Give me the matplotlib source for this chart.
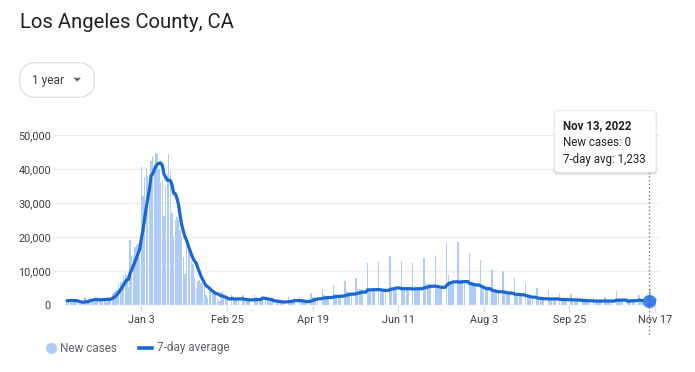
import matplotlib
matplotlib.use("Agg")
import matplotlib.pyplot as plt
import matplotlib.transforms as mtransforms
import matplotlib.dates as mdates
from matplotlib.patches import FancyBboxPatch, Polygon
from matplotlib.lines import Line2D
import numpy as np
import pandas as pd

plt.rcParams['font.family'] = ['Roboto', 'DejaVu Sans']

# ---------------- data ----------------
title = "Los Angeles County, CA"
range_label = "1 year"
series_names = ["New cases", "7-day average"]
start_date = "2021-11-18"

# six days before the first shown day (only used for the 7-day average)
cases_prior_nov_2021 = [1500, 800, 600, 2100, 1300, 1400]
cases_nov_2021 = [1400, 1500, 900, 700, 1900, 1300, 1500, 0, 300, 400, 300, 2400, 1800]
cases_dec_2021 = [1600, 1700, 1500, 1100, 900, 2300, 1600, 1700, 1800, 1700,
                  1200, 1000, 2400, 1900, 2000, 3200, 3700, 4000, 4500, 6600,
                  6800, 6900, 8800, 9300, 8900, 5400, 19000, 14500, 14600, 17200, 17700]
cases_jan_2022 = [18000, 14000, 40500, 32000, 37700, 40300, 38000, 35500, 42300, 43700,
                  41100, 44700, 44500, 40100, 36200, 36700, 26200, 34800, 38400, 44500,
                  39400, 27000, 20000, 25000, 26000, 25000, 22000, 20000, 14000, 9000, 17000]
cases_feb_2022 = [16000, 15000, 13000, 12000, 8000, 5000, 7000, 7500, 6500, 6000,
                  5500, 3000, 2000, 4500, 4000, 3800, 3500, 3300, 1800, 1200,
                  1500, 3800, 2500, 2200, 2000, 0, 0, 3000]
cases_mar_2022 = [2600, 2400, 2400, 2200, 0, 0, 2800, 2000, 1900, 1900,
                  1900, 0, 0, 3000, 2300, 2200, 2000, 1800, 2700, 0,
                  2400, 1600, 1500, 1500, 1400, 0, 0, 1900, 1100, 1100, 1100]
cases_apr_2022 = [1100, 0, 0, 2300, 1500, 1500, 1500, 2300, 0, 0,
                  2400, 1200, 1200, 1100, 1100, 0, 0, 3600, 2300, 2300,
                  2200, 2200, 0, 0, 4700, 2800, 2700, 2600, 2600, 0]
cases_may_2022 = [0, 5900, 3200, 3100, 3000, 3000, 0, 0, 7000, 4000,
                  3900, 3800, 3700, 0, 0, 8000, 4800, 4700, 4600, 4500,
                  0, 0, 12400, 5000, 4800, 4700, 4600, 0, 0, 12600, 4700]
cases_jun_2022 = [4400, 4300, 4100, 0, 0, 14400, 5300, 5200, 5100, 5000,
                  0, 0, 13000, 5300, 5200, 5100, 5000, 0, 0, 12300,
                  5500, 5400, 5300, 5100, 0, 0, 13800, 6400, 6200, 6100]
cases_jul_2022 = [6000, 0, 0, 14400, 5600, 5600, 5500, 5300, 0, 0,
                  18300, 8800, 7000, 6800, 6700, 0, 0, 18600, 7600, 7500,
                  7400, 7200, 0, 0, 15200, 6800, 6600, 6400, 6300, 0, 0]
cases_aug_2022 = [13200, 5300, 5100, 5000, 5000, 0, 0, 10300, 4400, 4300,
                  4200, 4100, 0, 0, 10000, 3700, 3700, 3600, 3500, 0,
                  0, 7800, 3400, 3300, 3300, 3200, 0, 0, 6400, 2500, 2400]
cases_sep_2022 = [2400, 2400, 0, 0, 4900, 2100, 2000, 2000, 1950, 0,
                  0, 4400, 2100, 2100, 2000, 2000, 0, 0, 3400, 2000,
                  2000, 1900, 1900, 0, 0, 3200, 1800, 1750, 1700, 1700]
cases_oct_2022 = [0, 0, 2500, 1600, 1600, 1550, 1500, 0, 0, 2000,
                  1550, 1500, 1500, 1500, 0, 0, 2300, 1450, 1450, 1450,
                  1400, 0, 0, 4200, 1550, 1500, 1450, 1450, 0, 0, 2000]
cases_nov_2022 = [1800, 1800, 1750, 1750, 0, 0, 3000, 1450, 1400, 1400,
                  1381, 0, 0, 4600, 1600, 1500, 1400]

tick_dates = ["2022-01-03", "2022-02-25", "2022-04-19", "2022-06-11",
              "2022-08-03", "2022-09-25", "2022-11-17"]
tick_labels = ["Jan 3", "Feb 25", "Apr 19", "Jun 11", "Aug 3", "Sep 25", "Nov 17"]
y_ticks = [0, 10000, 20000, 30000, 40000, 50000]
y_tick_labels = ["0", "10,000", "20,000", "30,000", "40,000", "50,000"]
tooltip_date = "2022-11-13"

# ---------------- derived ----------------
daily = (cases_nov_2021 + cases_dec_2021 + cases_jan_2022 + cases_feb_2022 +
         cases_mar_2022 + cases_apr_2022 + cases_may_2022 + cases_jun_2022 +
         cases_jul_2022 + cases_aug_2022 + cases_sep_2022 + cases_oct_2022 +
         cases_nov_2022)
dates = pd.date_range(start_date, periods=len(daily), freq="D")
avg = (pd.Series(cases_prior_nov_2021 + daily).rolling(7).mean()
       .iloc[len(cases_prior_nov_2021):].to_numpy())

# ---------------- colours ----------------
BAR = "#aecbfa"
LINE = "#1967d2"
DOT = "#3d7ff0"
GRID = "#ececec"
TXT = "#5f6368"
TICKTXT = "#3c4043"

W, H = 695, 372
fig = plt.figure(figsize=(W / 100, H / 100), dpi=100)
pix = mtransforms.Affine2D().scale(1 / 100.0, -1 / 100.0).translate(0, H / 100.0) + fig.dpi_scale_trans

# axes geometry (pixels)
ax_l, ax_r, ax_top, ax_bot = 53, 660, 135, 305
ax = fig.add_axes([ax_l / W, 1 - ax_bot / H, (ax_r - ax_l) / W, (ax_bot - ax_top) / H])

ax.bar(dates, daily, width=0.85, color=BAR, linewidth=0, zorder=2)
ax.plot(dates, avg, color=LINE, lw=2.3, zorder=3, solid_capstyle="round",
        solid_joinstyle="round")

d0 = dates[0]
ax.set_xlim(d0 - pd.Timedelta(days=8.7), d0 + pd.Timedelta(days=367.1))
ax.set_ylim(0, 50000)
for s in ax.spines.values():
    s.set_visible(False)
ax.set_yticks(y_ticks)
ax.set_yticklabels(y_tick_labels)
ax.yaxis.grid(True, color=GRID, lw=1, zorder=0)
ax.set_axisbelow(True)
ax.tick_params(axis="y", length=0, pad=1.5, labelsize=7.8, labelcolor=TICKTXT)
ax.set_xticks(pd.to_datetime(tick_dates))
ax.set_xticklabels(tick_labels)
ax.tick_params(axis="x", length=5, width=1, color="#dadce0", pad=2.5,
               labelsize=7.8, labelcolor=TICKTXT)

# tooltip marker + dotted line
tdate = pd.Timestamp(tooltip_date)
tidx = int((tdate - d0).days)
tnum = mdates.date2num(tdate.to_pydatetime())
ax.plot([tnum], [avg[tidx]], "o", ms=8.5, color=DOT, zorder=5, clip_on=False)
vtrans = mtransforms.blended_transform_factory(ax.transData, pix)
fig.add_artist(Line2D([tnum, tnum], [172, 336], transform=vtrans, color="#5f6368",
                      lw=0.9, linestyle=(0, (1, 2)), zorder=4))

# title
fig.text(19.5, 28.5, title, transform=pix, fontsize=14.6, color="#202124", va="baseline")

# range pill
fig.add_artist(FancyBboxPatch((19.5, 62.7), 75, 34.6, transform=pix,
                              boxstyle="round,pad=0,rounding_size=17",
                              facecolor="white", edgecolor="#dadce0", lw=0.9))
fig.text(32.3, 80.3, range_label, transform=pix, fontsize=8.6, color="#3c4043", va="center")
fig.add_artist(Polygon([[73.3, 77.8], [81.0, 77.8], [77.15, 81.6]], closed=True,
                       transform=pix, facecolor="#5f6368", edgecolor="none"))

# tooltip box with soft shadow
for i, a in enumerate([0.05, 0.05, 0.06]):
    fig.add_artist(FancyBboxPatch((554.5 - i * 0.6, 111 + 1 - i * 0.3), 101.5 + i * 1.2, 61.5 + i * 1.2,
                                  transform=pix, boxstyle="round,pad=0,rounding_size=3",
                                  facecolor="black", edgecolor="none", alpha=a, zorder=6))
fig.add_artist(FancyBboxPatch((554.5, 110.7), 101.5, 61.5, transform=pix,
                              boxstyle="round,pad=0,rounding_size=3",
                              facecolor="white", edgecolor="#e4e4e4", lw=0.6, zorder=7))
fig.text(562.7, 125.5, f"{tdate.strftime('%b')} {tdate.day}, {tdate.year}", transform=pix,
         fontsize=8.3, fontweight="bold", color="#202124", va="center", zorder=8)
fig.text(562.7, 142.8, f"{series_names[0]}: {daily[tidx]:,}", transform=pix, fontsize=8.3,
         color="#202124", va="center", zorder=8)
fig.text(562.7, 159.5, f"7-day avg: {avg[tidx]:,.0f}", transform=pix, fontsize=8.3,
         color="#202124", va="center", zorder=8)

# legend
fig.add_artist(Line2D([50.5], [348], transform=pix, marker="o", ms=7, color=BAR, lw=0))
fig.text(60.5, 348, series_names[0], transform=pix, fontsize=8.5, color=TXT, va="center")
fig.add_artist(Line2D([139, 152], [348, 348], transform=pix, color=LINE, lw=2.6))
fig.text(157, 348, series_names[1], transform=pix, fontsize=8.5, color=TXT, va="center")

fig.savefig("out.png", dpi=100)
